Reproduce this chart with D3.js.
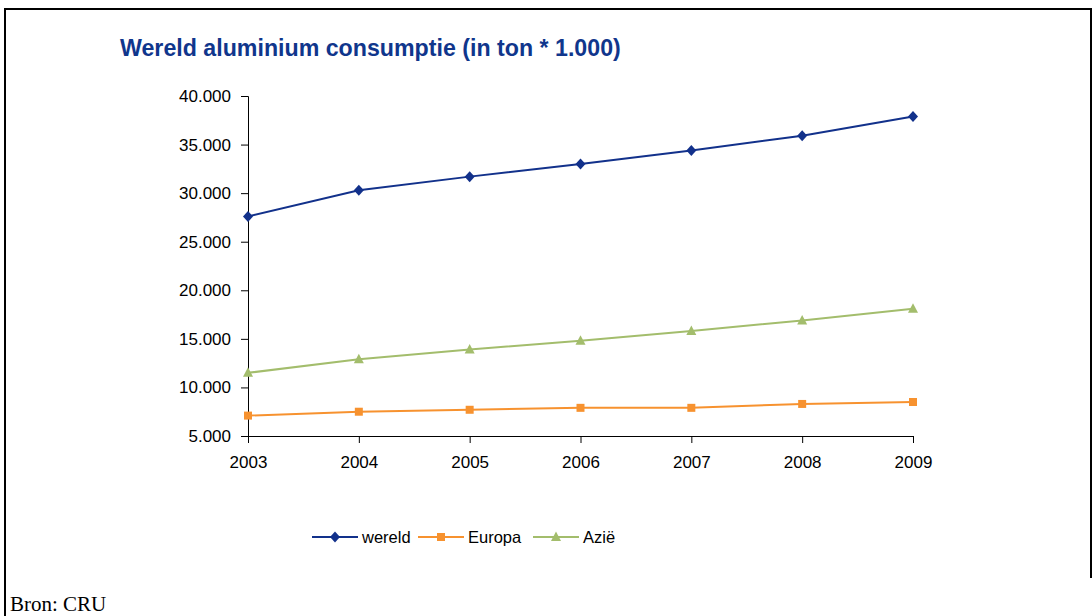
<!DOCTYPE html>
<html>
<head>
<meta charset="utf-8">
<script src="https://cdn.jsdelivr.net/npm/d3@7"></script>
<style>
  html, body { margin: 0; padding: 0; background: #fff; }
  svg { display: block; }
</style>
</head>
<body>
<svg id="chart" width="1092" height="616"></svg>
<script>
const years = ["2003", "2004", "2005", "2006", "2007", "2008", "2009"];
const wereld = [27600, 30300, 31700, 33000, 34400, 35900, 37900];
const europa = [7100, 7500, 7700, 7900, 7900, 8300, 8500];
const azie = [11500, 12900, 13900, 14800, 15800, 16900, 18100];
const yTicks = [5000, 10000, 15000, 20000, 25000, 30000, 35000, 40000];
const seriesNames = ["wereld", "Europa", "Azië"];
const titleText = "Wereld aluminium consumptie (in ton * 1.000)";
const sourceText = "Bron: CRU";

const svg = d3.select("#chart");
const nl = d3.formatLocale({decimal: ",", thousands: ".", grouping: [3], currency: ["€", ""]});
const fmt = nl.format(",.0f");

// frame
svg.append("line").attr("x1", 4).attr("x2", 1092).attr("y1", 9).attr("y2", 9)
  .attr("stroke", "#000").attr("stroke-width", 2);
svg.append("line").attr("x1", 5).attr("x2", 5).attr("y1", 8).attr("y2", 616)
  .attr("stroke", "#000").attr("stroke-width", 2);
svg.append("line").attr("x1", 1091).attr("x2", 1091).attr("y1", 8).attr("y2", 578)
  .attr("stroke", "#000").attr("stroke-width", 2);

// title
svg.append("text").attr("x", 120).attr("y", 56)
  .attr("font-family", "Liberation Sans, Arial, sans-serif")
  .attr("font-weight", "bold").attr("font-size", 23.2)
  .attr("fill", "#10368c").text(titleText);

const x = d3.scalePoint().domain(years).range([248, 913]);
const y = d3.scaleLinear().domain([5000, 40000]).range([436, 96]);

const yAxis = d3.axisLeft(y).tickValues(yTicks).tickFormat(fmt).tickSize(7).tickPadding(10);
const gy = svg.append("g").attr("transform", "translate(248,0)").call(yAxis);
gy.selectAll("text").attr("font-family", "Liberation Sans, Arial, sans-serif")
  .attr("font-size", 17).attr("fill", "#000");
gy.selectAll("line,path").attr("stroke", "#000");

const xAxis = d3.axisBottom(x).tickSize(7).tickPadding(13).tickSizeOuter(0);
const gx = svg.append("g").attr("transform", "translate(0,436)").call(xAxis);
gx.selectAll("text").attr("font-family", "Liberation Sans, Arial, sans-serif")
  .attr("font-size", 17).attr("fill", "#000");
gx.selectAll("line,path").attr("stroke", "#000");

const series = [
  {name: seriesNames[0], values: wereld, color: "#12318b", marker: "diamond"},
  {name: seriesNames[1], values: europa, color: "#f7922f", marker: "square"},
  {name: seriesNames[2], values: azie, color: "#a3bd6c", marker: "triangle"}
];

function markerPath(type) {
  if (type === "diamond") return "M0,-5.5L5,0L0,5.5L-5,0Z";
  if (type === "square") return "M-4,-4L4,-4L4,4L-4,4Z";
  return "M0,-5.5L5,4L-5,4Z";
}

const line = d3.line().x((d, i) => x(years[i])).y(d => y(d));

// draw in order: azie, europa, wereld
[series[2], series[1], series[0]].forEach(s => {
  svg.append("path").datum(s.values).attr("d", line)
    .attr("fill", "none").attr("stroke", s.color).attr("stroke-width", 2);
  svg.selectAll(null).data(s.values).enter().append("path")
    .attr("d", markerPath(s.marker))
    .attr("transform", (d, i) => `translate(${x(years[i])},${y(d)})`)
    .attr("fill", s.color);
});

// legend
const legendItems = [
  {lx: 312, tx: 362},
  {lx: 418, tx: 468},
  {lx: 533, tx: 583}
];
const ly = 537;
series.forEach((s, i) => {
  const it = legendItems[i];
  svg.append("line").attr("x1", it.lx).attr("x2", it.lx + 46).attr("y1", ly).attr("y2", ly)
    .attr("stroke", s.color).attr("stroke-width", 2);
  svg.append("path").attr("d", markerPath(s.marker))
    .attr("transform", `translate(${it.lx + 23},${ly})`).attr("fill", s.color);
  svg.append("text").attr("x", it.tx).attr("y", ly + 6)
    .attr("font-family", "Liberation Sans, Arial, sans-serif")
    .attr("font-size", 16.5).attr("fill", "#000").text(s.name);
});

// source
svg.append("text").attr("x", 10).attr("y", 611)
  .attr("font-family", "Liberation Serif, Times New Roman, serif")
  .attr("font-size", 21).attr("fill", "#000").text(sourceText);
</script>
</body>
</html>
